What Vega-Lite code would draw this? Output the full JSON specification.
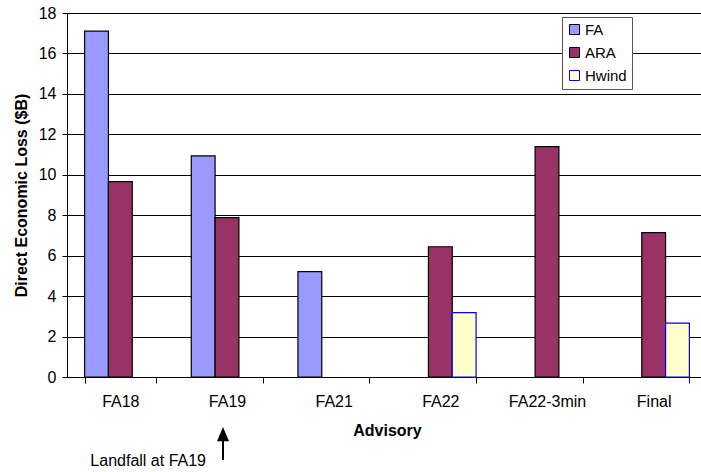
{
  "$schema": "https://vega.github.io/schema/vega-lite/v6.json",
  "width": 634,
  "height": 364,
  "autosize": {"type": "none"},
  "padding": {"left": 67, "top": 13, "right": 0, "bottom": 95},
  "background": "white",
  "config": {
    "view": {"stroke": null},
    "font": "Liberation Sans",
    "axis": {
      "labelColor": "black",
      "titleColor": "black",
      "domainColor": "black",
      "tickColor": "black",
      "labelFont": "Liberation Sans",
      "titleFont": "Liberation Sans"
    }
  },
  "datasets": {
    "losses": [
      {"advisory": "FA18", "series": "FA", "value": 17.1},
      {"advisory": "FA18", "series": "ARA", "value": 9.66},
      {"advisory": "FA19", "series": "FA", "value": 10.93},
      {"advisory": "FA19", "series": "ARA", "value": 7.88},
      {"advisory": "FA21", "series": "FA", "value": 5.21},
      {"advisory": "FA22", "series": "ARA", "value": 6.44},
      {"advisory": "FA22", "series": "Hwind", "value": 3.18},
      {"advisory": "FA22-3min", "series": "ARA", "value": 11.39},
      {"advisory": "Final", "series": "ARA", "value": 7.14},
      {"advisory": "Final", "series": "Hwind", "value": 2.66}
    ],
    "note": [
      {"advisory": "FA19", "tip": -2.47, "value": -2.9, "value2": -4.1, "ty": -4.4, "label": "Landfall at FA19"}
    ]
  },
  "layer": [
    {
      "data": {"name": "losses"},
      "mark": {"type": "bar", "strokeWidth": 1.2, "strokeOpacity": 1},
      "encoding": {
        "x": {
          "field": "advisory",
          "type": "nominal",
          "sort": ["FA18", "FA19", "FA21", "FA22", "FA22-3min", "Final"],
          "title": "Advisory",
          "scale": {"range": [0, 640], "paddingInner": 0.33, "paddingOuter": 0.165},
          "axis": {
            "labelAngle": 0,
            "labelFontSize": 16,
            "labelPadding": 10,
            "tickBand": "extent",
            "tickSize": 6,
            "titleFontSize": 16,
            "titleFontWeight": "bold",
            "titlePadding": 13,
            "grid": false
          }
        },
        "xOffset": {
          "field": "series",
          "type": "nominal",
          "sort": ["FA", "ARA", "Hwind"],
          "scale": {"paddingInner": 0, "paddingOuter": 0}
        },
        "y": {
          "field": "value",
          "type": "quantitative",
          "title": "Direct Economic Loss ($B)",
          "scale": {"domain": [0, 18], "nice": false},
          "axis": {
            "values": [0, 2, 4, 6, 8, 10, 12, 14, 16, 18],
            "grid": true,
            "gridColor": "black",
            "gridOpacity": 1,
            "gridWidth": 1,
            "tickSize": 5,
            "labelPadding": 6,
            "labelFontSize": 16,
            "titleFontSize": 16,
            "titleFontWeight": "bold",
            "titlePadding": 9
          }
        },
        "fill": {
          "field": "series",
          "type": "nominal",
          "scale": {"domain": ["FA", "ARA", "Hwind"], "range": ["#9999FF", "#993366", "#FFFFCC"]},
          "legend": {
            "title": null,
            "orient": "none",
            "legendX": 495,
            "legendY": 4,
            "fillColor": "white",
            "strokeColor": "#555555",
            "padding": 5,
            "labelFontSize": 15,
            "labelColor": "black",
            "labelOffset": 3,
            "rowPadding": 7,
            "symbolType": "square",
            "symbolSize": 100,
            "symbolStrokeWidth": 1
          }
        },
        "stroke": {
          "field": "series",
          "type": "nominal",
          "scale": {"domain": ["FA", "ARA", "Hwind"], "range": ["#000000", "#000000", "#0000FF"]},
          "legend": {
            "title": null,
            "orient": "none",
            "legendX": 495,
            "legendY": 4,
            "fillColor": "white",
            "strokeColor": "#555555",
            "padding": 5,
            "labelFontSize": 15,
            "labelColor": "black",
            "labelOffset": 3,
            "rowPadding": 7,
            "symbolType": "square",
            "symbolSize": 100,
            "symbolStrokeWidth": 1
          }
        }
      }
    },
    {
      "data": {"name": "note"},
      "mark": {"type": "rule", "xOffset": -4, "strokeWidth": 2, "color": "black"},
      "encoding": {
        "x": {"field": "advisory", "type": "nominal", "title": "Advisory"},
        "y": {"field": "value", "type": "quantitative", "title": "Direct Economic Loss ($B)"},
        "y2": {"field": "value2"}
      }
    },
    {
      "data": {"name": "note"},
      "mark": {"type": "point", "xOffset": -4, "shape": "M0,0L-1,2.4L1,2.4Z", "size": 144, "filled": true, "color": "black", "opacity": 1},
      "encoding": {
        "x": {"field": "advisory", "type": "nominal", "title": "Advisory"},
        "y": {"field": "tip", "type": "quantitative", "title": "Direct Economic Loss ($B)"}
      }
    },
    {
      "data": {"name": "note"},
      "mark": {"type": "text", "xOffset": -21, "align": "right", "baseline": "alphabetic", "fontSize": 16, "font": "Liberation Sans", "color": "black"},
      "encoding": {
        "x": {"field": "advisory", "type": "nominal", "title": "Advisory"},
        "y": {"field": "ty", "type": "quantitative", "title": "Direct Economic Loss ($B)"},
        "text": {"field": "label"}
      }
    }
  ]
}
